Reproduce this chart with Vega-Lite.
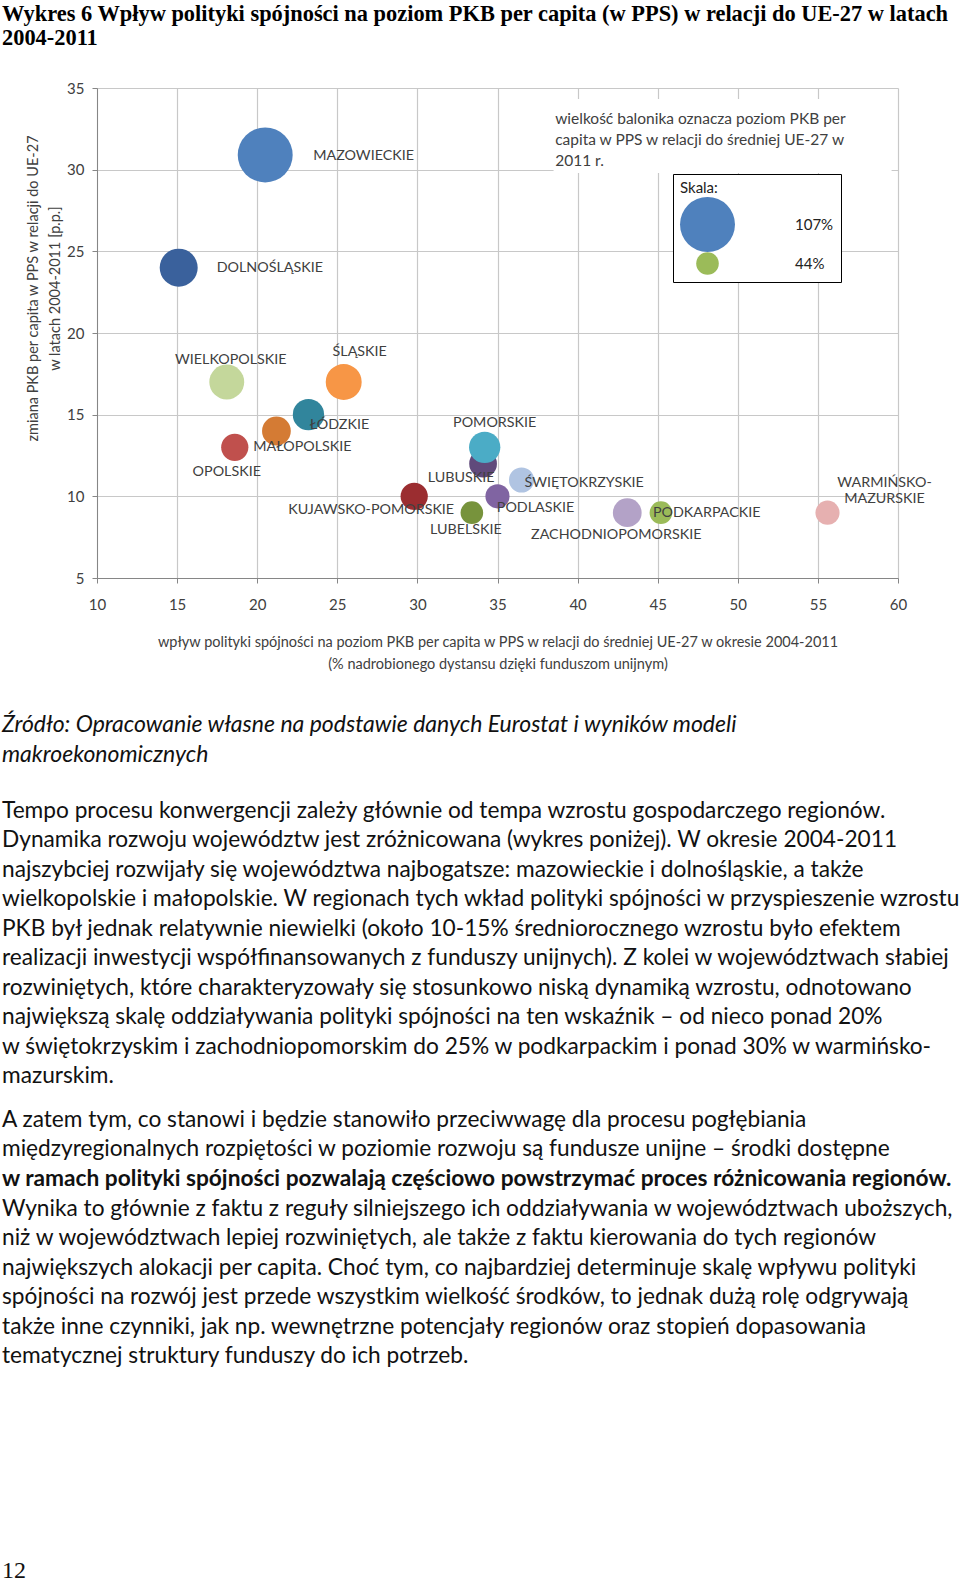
{
  "$schema": "https://vega.github.io/schema/vega-lite/v6.json",
  "padding": {"left": 2, "top": 2, "right": 0, "bottom": 0},
  "background": "white",
  "columns": 1,
  "align": "none",
  "spacing": 0,
  "concat": [
    {
      "width": 801,
      "height": 490,
      "title": {
        "text": ["Wykres 6 Wpływ polityki spójności na poziom PKB per capita (w PPS) w relacji do UE-27 w latach", "2004-2011"],
        "anchor": "start", "frame": "group", "dx": -95, "offset": 32,
        "font": "Liberation Serif", "fontSize": 22.4, "fontWeight": "bold", "lineHeight": 24, "color": "#000000"
      },
      "data": {"values": [
        {"region": "MAZOWIECKIE", "x": 20.5, "y": 30.9, "pkb": 107},
        {"region": "DOLNOŚLĄSKIE", "x": 15.1, "y": 24.0, "pkb": 74},
        {"region": "WIELKOPOLSKIE", "x": 18.1, "y": 17.0, "pkb": 68},
        {"region": "ŚLĄSKIE", "x": 25.4, "y": 17.0, "pkb": 70},
        {"region": "ŁÓDZKIE", "x": 23.2, "y": 15.0, "pkb": 61},
        {"region": "MAŁOPOLSKIE", "x": 21.2, "y": 14.0, "pkb": 56},
        {"region": "OPOLSKIE", "x": 18.6, "y": 13.0, "pkb": 53},
        {"region": "KUJAWSKO-POMORSKIE", "x": 29.8, "y": 10.0, "pkb": 53},
        {"region": "LUBELSKIE", "x": 33.4, "y": 9.0, "pkb": 44},
        {"region": "LUBUSKIE", "x": 34.1, "y": 12.0, "pkb": 54},
        {"region": "POMORSKIE", "x": 34.2, "y": 13.0, "pkb": 61},
        {"region": "PODLASKIE", "x": 35.0, "y": 10.0, "pkb": 47},
        {"region": "ŚWIĘTOKRZYSKIE", "x": 36.5, "y": 11.0, "pkb": 49},
        {"region": "ZACHODNIOPOMORSKIE", "x": 43.1, "y": 9.0, "pkb": 56},
        {"region": "PODKARPACKIE", "x": 45.2, "y": 9.0, "pkb": 44},
        {"region": "WARMIŃSKO-MAZURSKIE", "x": 55.6, "y": 9.0, "pkb": 47}
      ]},
      "encoding": {
        "x": {"field": "x", "type": "quantitative",
          "scale": {"domain": [10, 60], "nice": false, "zero": false},
          "axis": {"values": [10, 15, 20, 25, 30, 35, 40, 45, 50, 55, 60],
            "title": ["wpływ polityki spójności na poziom PKB per capita w PPS w relacji do średniej UE-27 w okresie 2004-2011", "(% nadrobionego dystansu dzięki funduszom unijnym)"],
            "labelPadding": 14, "titlePadding": 23, "labelFlush": false}},
        "y": {"field": "y", "type": "quantitative",
          "scale": {"domain": [5, 35], "nice": false, "zero": false},
          "axis": {"values": [5, 10, 15, 20, 25, 30, 35],
            "title": ["zmiana PKB per capita w PPS w relacji do UE-27", "w latach 2004-2011 [p.p.]"],
            "labelPadding": 8, "titlePadding": 4, "titleY": 200, "labelFlush": false}}
      },
      "layer": [
        {
          "transform": [{"filter": "datum.region === 'MAZOWIECKIE'"}],
          "mark": {"type": "rect", "color": "#ffffff"},
          "encoding": {
            "x": {"datum": 38.5}, "x2": {"datum": 59.6},
            "y": {"datum": 34.33}, "y2": {"datum": 29.8}
          }
        },
        {
          "mark": {"type": "circle", "opacity": 1},
          "encoding": {
            "color": {"field": "region", "type": "nominal", "legend": null,
              "scale": {
                "domain": ["MAZOWIECKIE", "DOLNOŚLĄSKIE", "WIELKOPOLSKIE", "ŚLĄSKIE", "ŁÓDZKIE", "MAŁOPOLSKIE", "OPOLSKIE", "KUJAWSKO-POMORSKIE", "LUBELSKIE", "LUBUSKIE", "POMORSKIE", "PODLASKIE", "ŚWIĘTOKRZYSKIE", "ZACHODNIOPOMORSKIE", "PODKARPACKIE", "WARMIŃSKO-MAZURSKIE"],
                "range": ["#4f81bd", "#3a619c", "#c4d79b", "#f79646", "#31859c", "#d47b34", "#c0504d", "#9b2d30", "#77933c", "#604a7b", "#4bacc6", "#8064a2", "#b0c4e2", "#b3a2c7", "#9bbb59", "#e6b0b0"]}},
            "size": {"field": "pkb", "type": "quantitative",
              "scale": {"type": "pow", "exponent": 2, "domain": [0, 107], "range": [0, 3019]},
              "legend": {"title": "Skala:", "values": [107, 44], "orient": "none", "legendX": 576, "legendY": 86,
                "strokeColor": "#000000", "fillColor": "#ffffff", "padding": 7, "rowPadding": 0,
                "symbolFillColor": "#4f81bd", "symbolStrokeWidth": 0, "symbolType": "circle", "symbolOpacity": 1,
                "labelExpr": "datum.label + '%'", "labelFont": "Lato", "labelFontSize": 15, "labelColor": "#222222", "labelOffset": 60,
                "titleFont": "Lato", "titleFontSize": 15, "titleFontWeight": "normal", "titleColor": "#222222", "titlePadding": 1,
                "encode": {"symbols": {"update": {"fill": {"signal": "datum.value === 44 ? '#9bbb59' : '#4f81bd'"}, "opacity": {"value": 1}}}}}}
          }
        },
        {"transform": [{"filter": "datum.region === 'MAZOWIECKIE'"}], "mark": {"type": "text", "align": "left", "dx": 48, "dy": 1}, "encoding": {"text": {"field": "region"}}},
        {"transform": [{"filter": "datum.region === 'DOLNOŚLĄSKIE'"}], "mark": {"type": "text", "align": "left", "dx": 38, "dy": 0}, "encoding": {"text": {"field": "region"}}},
        {"transform": [{"filter": "datum.region === 'WIELKOPOLSKIE'"}], "mark": {"type": "text", "align": "center", "dx": 4, "dy": -22}, "encoding": {"text": {"field": "region"}}},
        {"transform": [{"filter": "datum.region === 'ŚLĄSKIE'"}], "mark": {"type": "text", "align": "center", "dx": 16, "dy": -30}, "encoding": {"text": {"field": "region"}}},
        {"transform": [{"filter": "datum.region === 'ŁÓDZKIE'"}], "mark": {"type": "text", "align": "center", "dx": 31, "dy": 10}, "encoding": {"text": {"field": "region"}}},
        {"transform": [{"filter": "datum.region === 'MAŁOPOLSKIE'"}], "mark": {"type": "text", "align": "center", "dx": 26, "dy": 16}, "encoding": {"text": {"field": "region"}}},
        {"transform": [{"filter": "datum.region === 'OPOLSKIE'"}], "mark": {"type": "text", "align": "center", "dx": -8, "dy": 25}, "encoding": {"text": {"field": "region"}}},
        {"transform": [{"filter": "datum.region === 'KUJAWSKO-POMORSKIE'"}], "mark": {"type": "text", "align": "center", "dx": -43, "dy": 14}, "encoding": {"text": {"field": "region"}}},
        {"transform": [{"filter": "datum.region === 'LUBELSKIE'"}], "mark": {"type": "text", "align": "center", "dx": -6, "dy": 17}, "encoding": {"text": {"field": "region"}}},
        {"transform": [{"filter": "datum.region === 'LUBUSKIE'"}], "mark": {"type": "text", "align": "center", "dx": -22, "dy": 14}, "encoding": {"text": {"field": "region"}}},
        {"transform": [{"filter": "datum.region === 'POMORSKIE'"}], "mark": {"type": "text", "align": "center", "dx": 10, "dy": -24}, "encoding": {"text": {"field": "region"}}},
        {"transform": [{"filter": "datum.region === 'PODLASKIE'"}], "mark": {"type": "text", "align": "center", "dx": 38, "dy": 12}, "encoding": {"text": {"field": "region"}}},
        {"transform": [{"filter": "datum.region === 'ŚWIĘTOKRZYSKIE'"}], "mark": {"type": "text", "align": "left", "dx": 3, "dy": 3}, "encoding": {"text": {"field": "region"}}},
        {"transform": [{"filter": "datum.region === 'ZACHODNIOPOMORSKIE'"}], "mark": {"type": "text", "align": "center", "dx": -11, "dy": 22}, "encoding": {"text": {"field": "region"}}},
        {"transform": [{"filter": "datum.region === 'PODKARPACKIE'"}], "mark": {"type": "text", "align": "left", "dx": -8, "dy": 0}, "encoding": {"text": {"field": "region"}}},
        {"transform": [{"filter": "datum.region === 'WARMIŃSKO-MAZURSKIE'"}], "mark": {"type": "text", "align": "center", "dx": 57, "dy": -30}, "encoding": {"text": {"value": ["WARMIŃSKO-", "MAZURSKIE"]}}},
        {
          "transform": [{"filter": "datum.region === 'MAZOWIECKIE'"}],
          "mark": {"type": "text", "align": "left", "baseline": "top", "fontSize": 15.5, "lineHeight": 21, "color": "#404040"},
          "encoding": {
            "x": {"datum": 38.6},
            "y": {"datum": 33.55},
            "text": {"value": ["wielkość balonika oznacza poziom PKB per", "capita w PPS w relacji do średniej UE-27 w", "2011 r."]}
          }
        }
      ]
    },
    {
      "width": 946, "height": 43,
      "data": {"values": []},
      "mark": "point",
      "title": {
        "text": ["Źródło: Opracowanie własne na podstawie danych Eurostat i wyników modeli", "makroekonomicznych"],
        "orient": "bottom", "anchor": "start", "frame": "group", "offset": 0, "dx": -95,
        "font": "Lato", "fontSize": 23, "fontStyle": "italic", "fontWeight": "normal", "lineHeight": 29.5, "color": "#111111",
        "subtitle": [
          "Tempo procesu konwergencji zależy głównie od tempa wzrostu gospodarczego regionów.",
          "Dynamika rozwoju województw jest zróżnicowana (wykres poniżej). W okresie 2004-2011",
          "najszybciej rozwijały się województwa najbogatsze: mazowieckie i dolnośląskie, a także",
          "wielkopolskie i małopolskie. W regionach tych wkład polityki spójności w przyspieszenie wzrostu",
          "PKB był jednak relatywnie niewielki (około 10-15% średniorocznego wzrostu było efektem",
          "realizacji inwestycji współfinansowanych z funduszy unijnych). Z kolei w województwach słabiej",
          "rozwiniętych, które charakteryzowały się stosunkowo niską dynamiką wzrostu, odnotowano",
          "największą skalę oddziaływania polityki spójności na ten wskaźnik – od nieco ponad 20%",
          "w świętokrzyskim i zachodniopomorskim do 25% w podkarpackim i ponad 30% w warmińsko-",
          "mazurskim."
        ],
        "subtitleFont": "Lato", "subtitleFontSize": 22.7, "subtitleFontWeight": "normal", "subtitleFontStyle": "normal",
        "subtitleLineHeight": 29.5, "subtitleColor": "#111111", "subtitlePadding": 33
      }
    },
    {
      "width": 946, "height": 20.8,
      "data": {"values": []},
      "mark": "point",
      "title": {
        "text": ["A zatem tym, co stanowi i będzie stanowiło przeciwwagę dla procesu pogłębiania", "międzyregionalnych rozpiętości w poziomie rozwoju są fundusze unijne – środki dostępne"],
        "orient": "bottom", "anchor": "start", "frame": "group", "offset": 0, "dx": -95,
        "font": "Lato", "fontSize": 22.7, "fontStyle": "normal", "fontWeight": "normal", "lineHeight": 29.5, "color": "#111111",
        "subtitle": "w ramach polityki spójności pozwalają częściowo powstrzymać proces różnicowania regionów.",
        "subtitleFont": "Lato", "subtitleFontSize": 22.7, "subtitleFontWeight": "bold", "subtitleFontStyle": "normal",
        "subtitleLineHeight": 29.5, "subtitleColor": "#111111", "subtitlePadding": 6.8
      }
    },
    {
      "width": 946, "height": 6.8,
      "data": {"values": []},
      "mark": "point",
      "title": {
        "text": [
          "Wynika to głównie z faktu z reguły silniejszego ich oddziaływania w województwach uboższych,",
          "niż w województwach lepiej rozwiniętych, ale także z faktu kierowania do tych regionów",
          "największych alokacji per capita. Choć tym, co najbardziej determinuje skalę wpływu polityki",
          "spójności na rozwój jest przede wszystkim wielkość środków, to jednak dużą rolę odgrywają",
          "także inne czynniki, jak np. wewnętrzne potencjały regionów oraz stopień dopasowania",
          "tematycznej struktury funduszy do ich potrzeb."
        ],
        "orient": "bottom", "anchor": "start", "frame": "group", "offset": 0, "dx": -95,
        "font": "Lato", "fontSize": 22.7, "fontStyle": "normal", "fontWeight": "normal", "lineHeight": 29.5, "color": "#111111",
        "subtitle": "12",
        "subtitleFont": "Liberation Serif", "subtitleFontSize": 24, "subtitleFontWeight": "normal",
        "subtitleColor": "#111111", "subtitlePadding": 191
      }
    }
  ],
  "config": {
    "view": {"stroke": null},
    "font": "Lato",
    "text": {"font": "Lato", "fontSize": 14.3, "color": "#404040", "baseline": "middle"},
    "axis": {
      "gridColor": "#c8c8c8", "gridWidth": 1.2,
      "domainColor": "#868686", "tickColor": "#868686", "tickSize": 5,
      "labelFont": "Lato", "labelFontSize": 15, "labelColor": "#404040",
      "titleFont": "Lato", "titleFontSize": 14.5, "titleFontWeight": "normal", "titleColor": "#404040", "titleLineHeight": 22
    }
  }
}
